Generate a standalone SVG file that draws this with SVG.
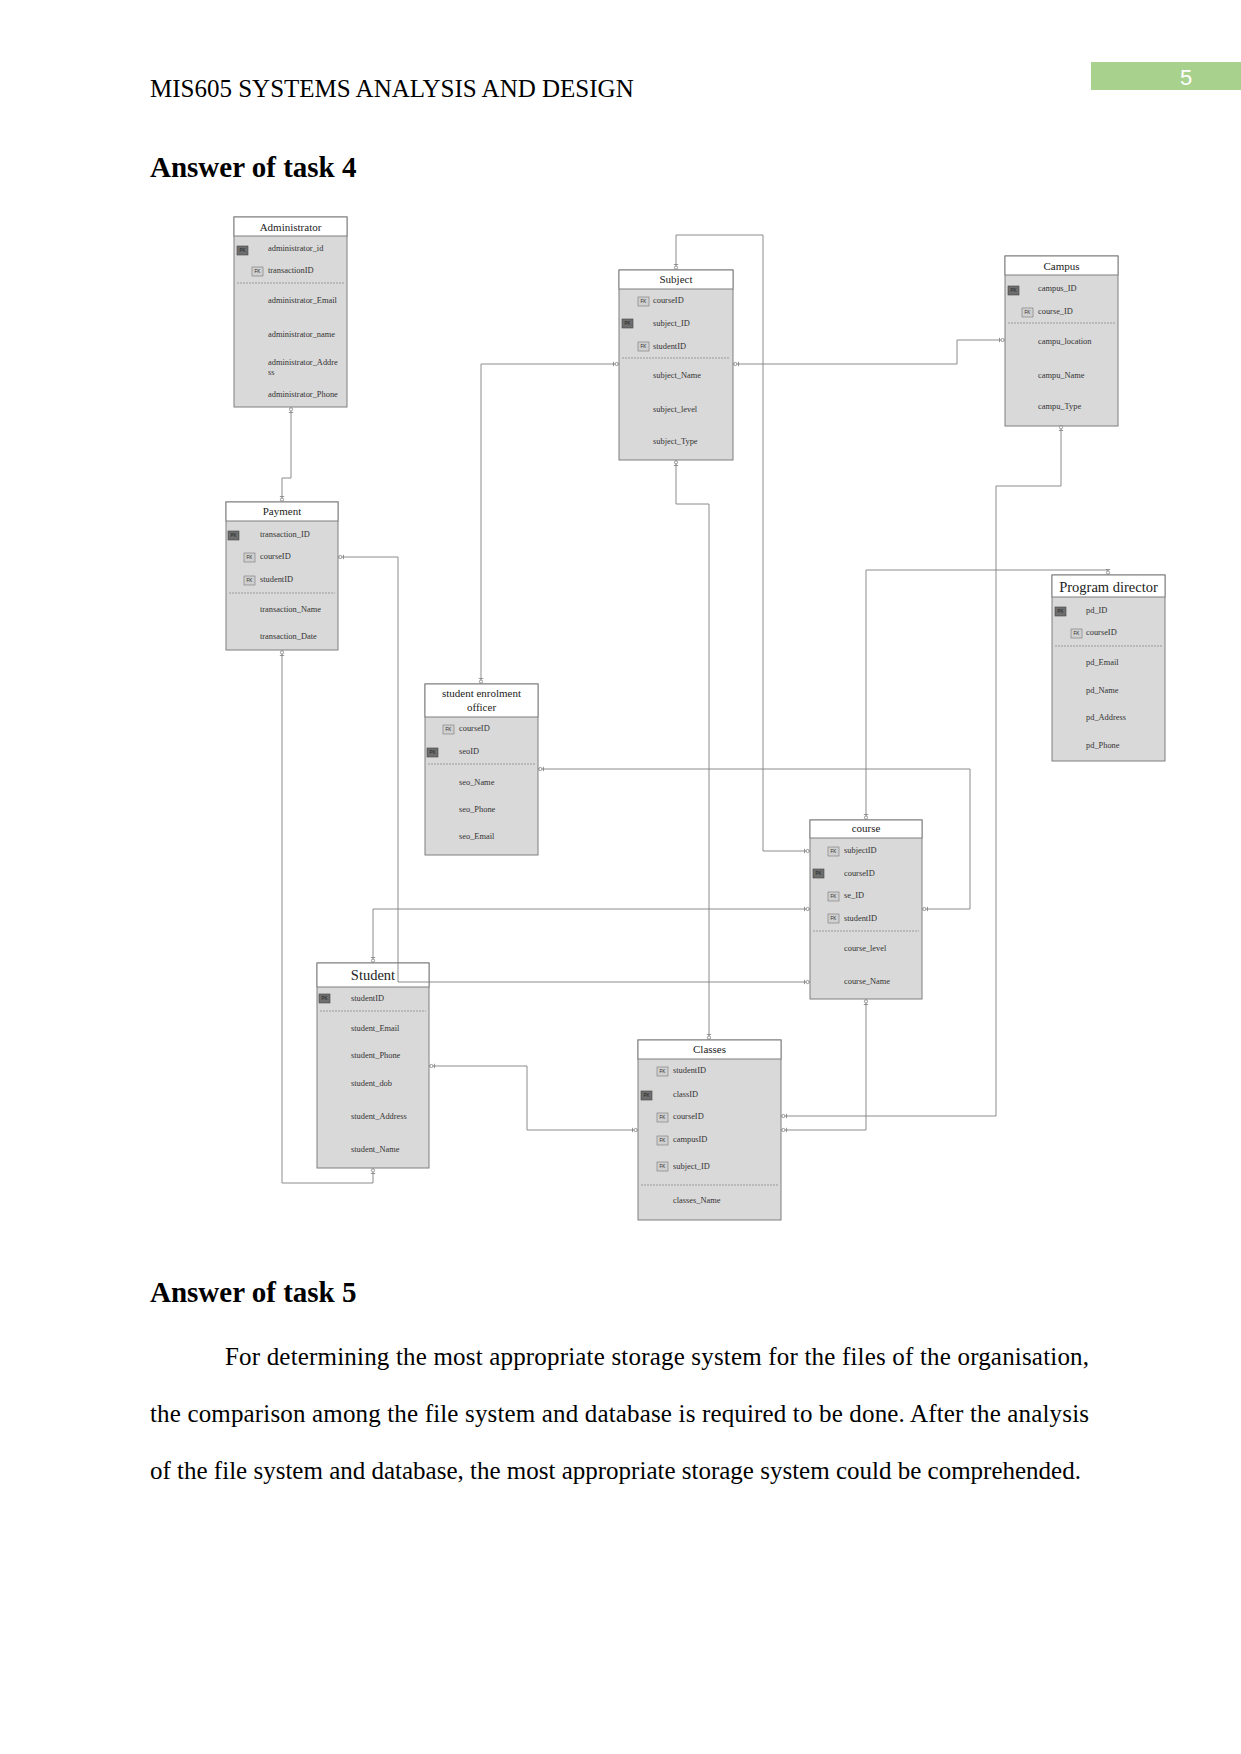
<svg xmlns="http://www.w3.org/2000/svg" width="1241" height="1754" viewBox="0 0 1241 1754">
<style>
.pg{font-family:"Liberation Serif","Times New Roman",serif;fill:#000}
.hd{font-size:25px}
.h2{font-size:29px;font-weight:bold}
.para{font-size:25px}
.box{fill:#d9d9d9;stroke:#7f7f7f;stroke-width:1}
.head{fill:#fff;stroke:#7f7f7f;stroke-width:1}
.t{font-family:"Liberation Serif","Times New Roman",serif;font-size:11px;fill:#222;text-anchor:middle}
.tb{font-size:14.5px}
.a{font-family:"Liberation Serif","Times New Roman",serif;font-size:8.4px;fill:#333}
.sep{stroke:#999;stroke-width:1;stroke-dasharray:2 1}
.pk{fill:#6e6e6e;stroke:#444;stroke-width:0.6}
.fk{fill:#d0d0d0;stroke:#777;stroke-width:0.6}
.kt{font-family:"Liberation Sans",Arial,sans-serif;font-size:4.5px;fill:#222;text-anchor:middle}
.c{fill:none;stroke:#7f7f7f;stroke-width:0.9;marker-start:url(#mk);marker-end:url(#mk)}
</style>
<defs>
<marker id="mk" markerWidth="10" markerHeight="8" refX="9" refY="4" orient="auto-start-reverse" markerUnits="userSpaceOnUse">
<circle cx="6.6" cy="4" r="1.6" fill="#fff" stroke="#7f7f7f" stroke-width="0.8"/>
<path d="M3.5 1.8V6.2" stroke="#7f7f7f" stroke-width="0.8"/>
</marker>
<g id="PK"><rect class="pk" x="0" y="0" width="11" height="9"/><text class="kt" x="5.5" y="6.3">PK</text></g>
<g id="FK"><rect class="fk" x="0" y="0" width="11" height="9"/><text class="kt" x="5.5" y="6.3">FK</text></g>
</defs>
<rect width="1241" height="1754" fill="#fff"/>

<!-- page header -->
<text class="pg hd" x="150" y="97">MIS605 SYSTEMS ANALYSIS AND DESIGN</text>
<rect x="1091" y="62" width="150" height="28" fill="#a9d18e"/>
<text x="1186" y="85" font-family="'Liberation Sans',Arial,sans-serif" font-size="22" fill="#fff" text-anchor="middle">5</text>
<text class="pg h2" x="150" y="177">Answer of task 4</text>

<!-- nodes -->
<g id="administrator">
<rect class="box" x="234" y="217" width="113" height="190"/>
<rect class="head" x="234" y="217" width="113" height="19"/>
<text class="t" x="290.5" y="231">Administrator</text>
<use href="#PK" x="237" y="246"/><text class="a" x="268" y="251">administrator_id</text>
<use href="#FK" x="252" y="267"/><text class="a" x="268" y="273">transactionID</text>
<line class="sep" x1="237" y1="283" x2="344" y2="283"/>
<text class="a" x="268" y="303">administrator_Email</text>
<text class="a" x="268" y="337">administrator_name</text>
<text class="a" x="268" y="365">administrator_Addre</text>
<text class="a" x="268" y="375">ss</text>
<text class="a" x="268" y="397">administrator_Phone</text>
</g>

<g id="subject">
<rect class="box" x="619" y="270" width="114" height="190"/>
<rect class="head" x="619" y="270" width="114" height="19"/>
<text class="t" x="676" y="283">Subject</text>
<use href="#FK" x="638" y="297"/><text class="a" x="653" y="303">courseID</text>
<use href="#PK" x="622" y="319"/><text class="a" x="653" y="326">subject_ID</text>
<use href="#FK" x="638" y="342"/><text class="a" x="653" y="349">studentID</text>
<line class="sep" x1="622" y1="358" x2="730" y2="358"/>
<text class="a" x="653" y="378">subject_Name</text>
<text class="a" x="653" y="412">subject_level</text>
<text class="a" x="653" y="444">subject_Type</text>
</g>

<g id="campus">
<rect class="box" x="1005" y="256" width="113" height="170"/>
<rect class="head" x="1005" y="256" width="113" height="19"/>
<text class="t" x="1061.5" y="270">Campus</text>
<use href="#PK" x="1008" y="286"/><text class="a" x="1038" y="291">campus_ID</text>
<use href="#FK" x="1022" y="308"/><text class="a" x="1038" y="314">course_ID</text>
<line class="sep" x1="1008" y1="323" x2="1115" y2="323"/>
<text class="a" x="1038" y="344">campu_location</text>
<text class="a" x="1038" y="378">campu_Name</text>
<text class="a" x="1038" y="409">campu_Type</text>
</g>

<g id="payment">
<rect class="box" x="226" y="502" width="112" height="148"/>
<rect class="head" x="226" y="502" width="112" height="19"/>
<text class="t" x="282" y="515">Payment</text>
<use href="#PK" x="228" y="531"/><text class="a" x="260" y="537">transaction_ID</text>
<use href="#FK" x="244" y="553"/><text class="a" x="260" y="559">courseID</text>
<use href="#FK" x="244" y="576"/><text class="a" x="260" y="582">studentID</text>
<line class="sep" x1="229" y1="593" x2="335" y2="593"/>
<text class="a" x="260" y="612">transaction_Name</text>
<text class="a" x="260" y="639">transaction_Date</text>
</g>

<g id="student-enrolment-officer">
<rect class="box" x="425" y="684" width="113" height="171"/>
<rect class="head" x="425" y="684" width="113" height="33"/>
<text class="t" x="481.5" y="697">student enrolment</text>
<text class="t" x="481.5" y="711">officer</text>
<use href="#FK" x="443" y="725"/><text class="a" x="459" y="731">courseID</text>
<use href="#PK" x="427" y="748"/><text class="a" x="459" y="754">seoID</text>
<line class="sep" x1="428" y1="764" x2="535" y2="764"/>
<text class="a" x="459" y="785">seo_Name</text>
<text class="a" x="459" y="812">seo_Phone</text>
<text class="a" x="459" y="839">seo_Email</text>
</g>

<g id="program-director">
<rect class="box" x="1052" y="575" width="113" height="186"/>
<rect class="head" x="1052" y="575" width="113" height="22"/>
<text class="t tb" x="1108.5" y="592">Program director</text>
<use href="#PK" x="1055" y="607"/><text class="a" x="1086" y="613">pd_ID</text>
<use href="#FK" x="1071" y="629"/><text class="a" x="1086" y="635">courseID</text>
<line class="sep" x1="1055" y1="646" x2="1162" y2="646"/>
<text class="a" x="1086" y="665">pd_Email</text>
<text class="a" x="1086" y="693">pd_Name</text>
<text class="a" x="1086" y="720">pd_Address</text>
<text class="a" x="1086" y="748">pd_Phone</text>
</g>

<g id="course">
<rect class="box" x="810" y="820" width="112" height="179"/>
<rect class="head" x="810" y="820" width="112" height="18"/>
<text class="t" x="866" y="832">course</text>
<use href="#FK" x="828" y="847"/><text class="a" x="844" y="853">subjectID</text>
<use href="#PK" x="813" y="869"/><text class="a" x="844" y="876">courseID</text>
<use href="#FK" x="828" y="892"/><text class="a" x="844" y="898">se_ID</text>
<use href="#FK" x="828" y="914"/><text class="a" x="844" y="921">studentID</text>
<line class="sep" x1="813" y1="931" x2="919" y2="931"/>
<text class="a" x="844" y="951">course_level</text>
<text class="a" x="844" y="984">course_Name</text>
</g>

<g id="student">
<rect class="box" x="317" y="963" width="112" height="205"/>
<rect class="head" x="317" y="963" width="112" height="24"/>
<text class="t tb" x="373" y="980">Student</text>
<use href="#PK" x="319" y="994"/><text class="a" x="351" y="1001">studentID</text>
<line class="sep" x1="320" y1="1011" x2="426" y2="1011"/>
<text class="a" x="351" y="1031">student_Email</text>
<text class="a" x="351" y="1058">student_Phone</text>
<text class="a" x="351" y="1086">student_dob</text>
<text class="a" x="351" y="1119">student_Address</text>
<text class="a" x="351" y="1152">student_Name</text>
</g>

<g id="classes">
<rect class="box" x="638" y="1040" width="143" height="180"/>
<rect class="head" x="638" y="1040" width="143" height="19"/>
<text class="t" x="709.5" y="1053">Classes</text>
<use href="#FK" x="657" y="1067"/><text class="a" x="673" y="1073">studentID</text>
<use href="#PK" x="641" y="1091"/><text class="a" x="673" y="1097">classID</text>
<use href="#FK" x="657" y="1113"/><text class="a" x="673" y="1119">courseID</text>
<use href="#FK" x="657" y="1136"/><text class="a" x="673" y="1142">campusID</text>
<use href="#FK" x="657" y="1162"/><text class="a" x="673" y="1169">subject_ID</text>
<line class="sep" x1="641" y1="1185" x2="778" y2="1185"/>
<text class="a" x="673" y="1203">classes_Name</text>
</g>

<!-- connectors -->
<g id="connectors">
<path class="c" d="M291 407V478H282V502"/>
<path class="c" d="M676 270V235H763V851H810"/>
<path class="c" d="M619 364H481V684"/>
<path class="c" d="M733 364H957V340H1005"/>
<path class="c" d="M676 460V504H709V1040"/>
<path class="c" d="M1061 425V486H996V1116H781"/>
<path class="c" d="M1108 575V570H866V820"/>
<path class="c" d="M538 769H970V909H922"/>
<path class="c" d="M373 963V909H810"/>
<path class="c" d="M338 557H398V982H810"/>
<path class="c" d="M282 650V1183H373V1168"/>
<path class="c" d="M429 1066H527V1130H638"/>
<path class="c" d="M866 999V1130H781"/>
</g>

<!-- task 5 -->
<text class="pg h2" x="150" y="1302">Answer of task 5</text>
<text class="pg para" x="225" y="1365" textLength="864" lengthAdjust="spacing">For determining the most appropriate storage system for the files of the organisation,</text>
<text class="pg para" x="150" y="1422" textLength="939" lengthAdjust="spacing">the comparison among the file system and database is required to be done. After the analysis</text>
<text class="pg para" x="150" y="1479">of the file system and database, the most appropriate storage system could be comprehended.</text>
</svg>
